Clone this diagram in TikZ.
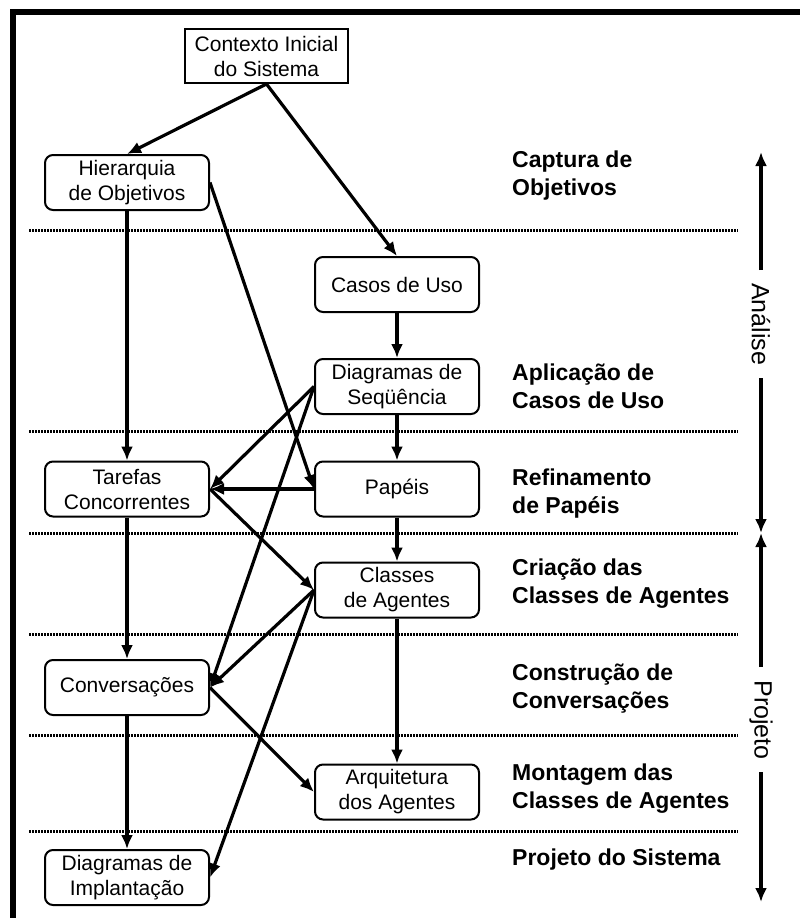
\documentclass[tikz,border=0pt]{standalone}
\usepackage{fontspec}
\setmainfont{Liberation Sans}
\usetikzlibrary{arrows.meta}
\begin{document}
\begin{tikzpicture}[x=1pt,y=-1pt,
 box/.style={draw, line width=2pt, rounded corners=8pt, align=center, minimum width=164pt, minimum height=55pt, inner sep=0pt, font=\fontsize{21}{25}\selectfont},
 lab/.style={anchor=west, align=left, font=\fontsize{23}{28}\selectfont\bfseries, inner sep=0pt},
 arr/.style={line width=3.2pt, -{Latex[length=14pt,width=12pt]}},
 sep/.style={line width=3pt, dash pattern=on 2pt off 1pt},
 phase/.style={font=\fontsize{25}{25}\selectfont, rotate=-90, inner sep=0pt}]
\useasboundingbox (0,0) rectangle (800,918);
\clip (0,0) rectangle (800,918);
\draw[line width=6pt] (12.5,930) -- (12.5,12) -- (810,12);

% separators
\foreach \yy in {230,431,533,634,735,831}{\draw[sep] (29,\yy) -- (738,\yy);}

% nodes
\node[box, rounded corners=0pt, minimum width=163pt, minimum height=54pt] (ctx) at (266.5,56) {Contexto Inicial\\do Sistema};
\node[box] (hier) at (127,182.5) {Hierarquia\\de Objetivos};
\node[box] (casos) at (397,284.5) {Casos de Uso};
\node[box] (seq) at (397,386.5) {Diagramas de\\Seqüência};
\node[box] (tar) at (127,489) {Tarefas\\Concorrentes};
\node[box] (pap) at (397,489) {Papéis};
\node[box] (cla) at (397,590) {Classes\\de Agentes};
\node[box] (conv) at (127,687.5) {Conversações};
\node[box] (arq) at (397,792) {Arquitetura\\dos Agentes};
\node[box] (impl) at (127,877.5) {Diagramas de\\Implantação};

% labels
\node[lab] (l1) at (512,175.5) {Captura de\\Objetivos};
\node[lab] (l2) at (512,386) {Aplicação de\\Casos de Uso};
\node[lab] (l3) at (512,494) {Refinamento\\de Papéis};
\node[lab] (l4) at (512,583.5) {Criação das\\Classes de Agentes};
\node[lab] (l5) at (512,689) {Construção de\\Conversações};
\node[lab] (l6) at (512,788.5) {Montagem das\\Classes de Agentes};
\node[lab] (l7) at (512,860) {Projeto do Sistema};

% connectors
\draw[arr] (ctx.south) -- (hier.north);
\draw[arr] (ctx.south) -- (casos.north);
\draw[arr] (hier.south) -- (tar.north);
\draw[arr] (hier.east) -- (pap.west);
\draw[arr] (casos.south) -- (seq.north);
\draw[arr] (seq.west) -- (tar.east);
\draw[arr] (seq.west) -- (conv.east);
\draw[arr] (pap.west) -- (tar.east);
\draw[arr] (seq.south) -- (pap.north);
\draw[arr] (pap.south) -- (cla.north);
\draw[arr] (tar.east) -- (cla.west);
\draw[arr] (tar.south) -- (conv.north);
\draw[arr] (cla.west) -- (conv.east);
\draw[arr] (cla.west) -- (impl.east);
\draw[arr] (cla.south) -- (arq.north);
\draw[arr] (conv.east) -- (arq.west);
\draw[arr] (conv.south) -- (impl.north);

% phases
\node[phase] (an) at (761,324) {Análise};
\node[phase] (pr) at (761,720) {Projeto};
\coordinate (a0) at (761,152);
\coordinate (a1) at (761,270);
\coordinate (a2) at (761,378);
\coordinate (mid) at (761,533);
\coordinate (p1) at (761,667);
\coordinate (p2) at (761,772);
\coordinate (p3) at (761,902);
\draw[arr] (a1) -- (a0);
\draw[arr] (a2) -- (mid);
\draw[arr] (p1) -- (mid);
\draw[arr] (p2) -- (p3);
\end{tikzpicture}
\end{document}
